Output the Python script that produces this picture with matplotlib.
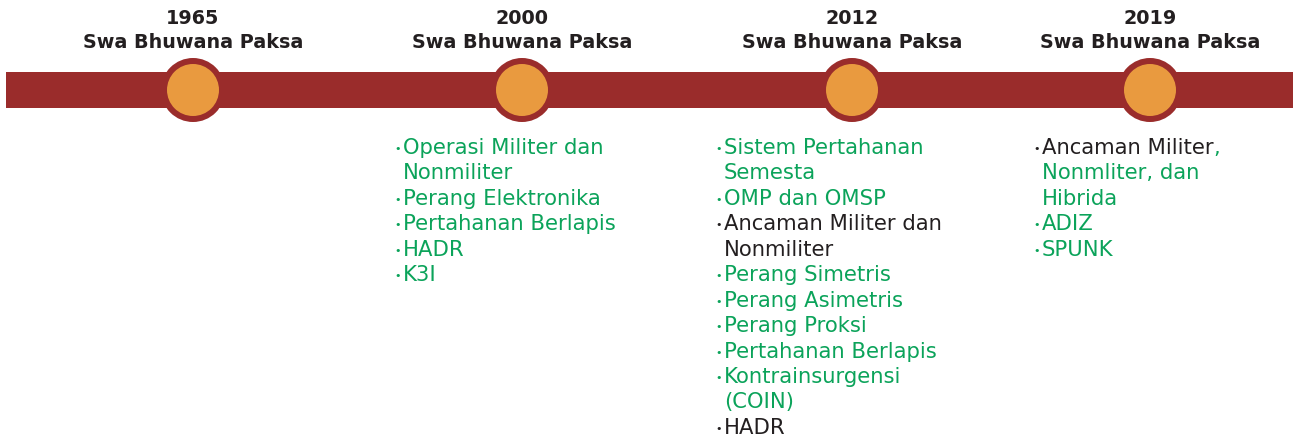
import matplotlib.pyplot as plt
from matplotlib.patches import Circle, Rectangle

# timeline data
years = ['1965', '2000', '2012', '2019']
doctrine = ['Swa Bhuwana Paksa'] * 4

# each item: list of (line text, colour key); wrapped lines kept as shown
items_2000 = [
    [('Operasi Militer dan', 'g'), ('Nonmiliter', 'g')],
    [('Perang Elektronika', 'g')],
    [('Pertahanan Berlapis', 'g')],
    [('HADR', 'g')],
    [('K3I', 'g')],
]
items_2012 = [
    [('Sistem Pertahanan', 'g'), ('Semesta', 'g')],
    [('OMP dan OMSP', 'g')],
    [('Ancaman Militer dan', 'k'), ('Nonmiliter', 'k')],
    [('Perang Simetris', 'g')],
    [('Perang Asimetris', 'g')],
    [('Perang Proksi', 'g')],
    [('Pertahanan Berlapis', 'g')],
    [('Kontrainsurgensi', 'g'), ('(COIN)', 'g')],
    [('HADR', 'k')],
]
items_2019 = [
    [(('Ancaman Militer', 'k'), (',', 'g')), ('Nonmliter, dan', 'g'), ('Hibrida', 'g')],
    [('ADIZ', 'g')],
    [('SPUNK', 'g')],
]
items = [[], items_2000, items_2012, items_2019]

colors = {'g': '#0ba35a', 'k': '#231f20'}
bar_red = '#9a2c2b'
dot_orange = '#e99a3f'

W, H = 1293, 439
fig = plt.figure(figsize=(W / 100, H / 100), dpi=100)
ax = fig.add_axes([0, 0, 1, 1])
ax.set_xlim(0, W)
ax.set_ylim(H, 0)
ax.axis('off')

xs = [193, 522, 852, 1150]
bar_y, bar_h = 73, 36

ax.add_patch(Rectangle((6, bar_y), W - 6, bar_h, color=bar_red, lw=0))
for x in xs:
    ax.add_patch(Circle((x, bar_y + bar_h / 2), 32, color=bar_red, lw=0))
    ax.add_patch(Circle((x, bar_y + bar_h / 2), 26, color=dot_orange, lw=0))

head_font = dict(family='DejaVu Sans', fontsize=13.8, fontweight='bold',
                 color='#231f20', ha='center', va='center')
for x, yr, d in zip(xs, years, doctrine):
    ax.text(x, 18, yr, **head_font)
    ax.text(x, 43, d, **head_font)

renderer = fig.canvas.get_renderer()
line_h = 25.45
fs = 15.2
list_x = [None, 396, 717, 1035]
for x0, col in zip(list_x, items):
    if x0 is None:
        continue
    y = 148
    for item in col:
        first = True
        for line in item:
            if first:
                c0 = line[1] if isinstance(line[0], str) else line[0][1]
                ax.text(x0 + 1.5, y + 1, '•', fontsize=8, color=colors[c0],
                        ha='center', va='center')
                first = False
            if isinstance(line[0], str):
                ax.text(x0 + 7, y, line[0], fontsize=fs, color=colors[line[1]],
                        ha='left', va='center')
            else:
                xx = x0 + 7
                for seg, c in line:
                    t = ax.text(xx, y, seg, fontsize=fs, color=colors[c],
                                ha='left', va='center')
                    bb = t.get_window_extent(renderer)
                    xx += bb.width
            y += line_h

fig.savefig('out.png', dpi=100)
